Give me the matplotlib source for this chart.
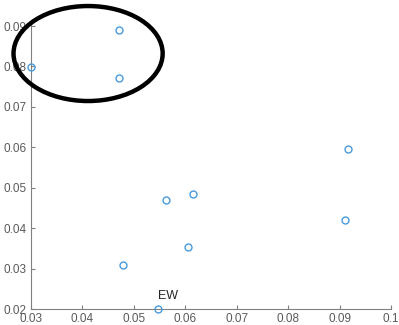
import matplotlib
matplotlib.use("Agg")
import matplotlib.pyplot as plt
from matplotlib.patches import Ellipse

plt.rcParams['font.family'] = ['Liberation Sans', 'DejaVu Sans']

x_vals = [0.0300, 0.0472, 0.0472, 0.0478, 0.0563, 0.0615, 0.0605, 0.0547, 0.0917, 0.0910]
y_vals = [0.0799, 0.0891, 0.0771, 0.0308, 0.0470, 0.0485, 0.0353, 0.0200, 0.0595, 0.0419]
label_text = "EW"
label_pos = (0.0547, 0.0200)
x_ticks = [0.03, 0.04, 0.05, 0.06, 0.07, 0.08, 0.09, 0.1]
x_ticklabels = ["0.03", "0.04", "0.05", "0.06", "0.07", "0.08", "0.09", "0.1"]
y_ticks = [0.02, 0.03, 0.04, 0.05, 0.06, 0.07, 0.08, 0.09]
y_ticklabels = ["0.02", "0.03", "0.04", "0.05", "0.06", "0.07", "0.08", "0.09"]
ellipse_center = (0.0411, 0.0832)
ellipse_size = (0.0290, 0.0235)

fig = plt.figure(figsize=(3.99, 3.25), dpi=100)
ax = fig.add_axes([31/399, 1 - 309/325, (391 - 31)/399, (309 - 22)/325])
ax.plot(x_vals, y_vals, linestyle="none", marker="o", markersize=5,
        markerfacecolor="none", markeredgecolor="#4a9bdc", markeredgewidth=1.0,
        clip_on=False, zorder=3)
ax.text(label_pos[0], label_pos[1] + 0.0018, label_text, fontsize=9,
        color="#262626", ha="left", va="bottom")
ax.set_xlim(0.03, 0.1)
ax.set_ylim(0.02, 0.091)
ax.set_xticks(x_ticks)
ax.set_xticklabels(x_ticklabels)
ax.set_yticks(y_ticks)
ax.set_yticklabels(y_ticklabels)
for s in ["top", "right"]:
    ax.spines[s].set_visible(False)
for s in ["left", "bottom"]:
    ax.spines[s].set_color("#808080")
    ax.spines[s].set_linewidth(0.8)
ax.tick_params(direction="in", length=3, width=0.8, color="#808080",
               labelcolor="#5a5a5a", labelsize=8.5, pad=3)
ell = Ellipse(ellipse_center, ellipse_size[0], ellipse_size[1], fill=False,
              edgecolor="black", linewidth=3.2, clip_on=False, zorder=4)
ax.add_patch(ell)
fig.savefig("out.png", dpi=100)
